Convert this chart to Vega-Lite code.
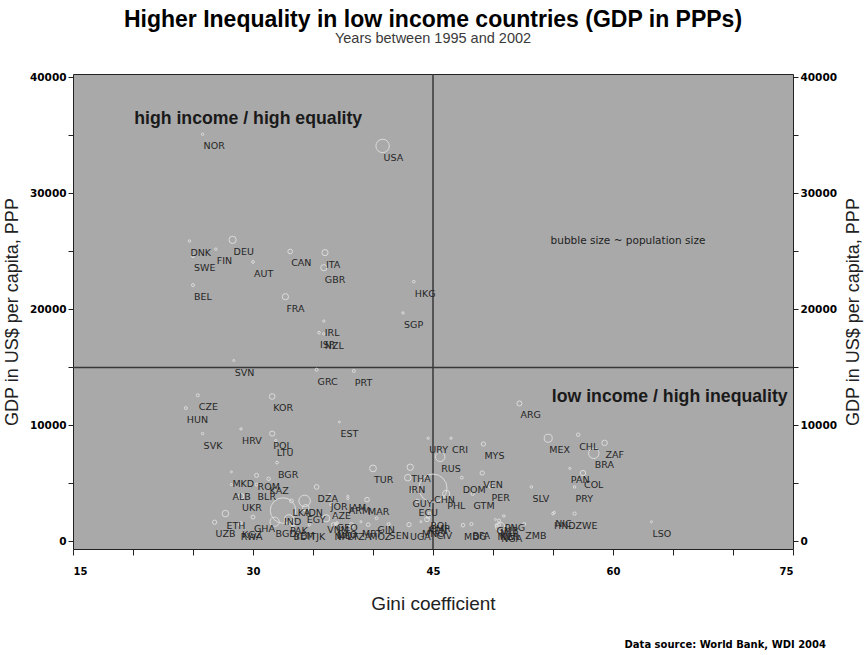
{
  "$schema": "https://vega.github.io/schema/vega-lite/v6.json",
  "width": 720,
  "height": 475,
  "autosize": {"type": "none"},
  "padding": {"left": 73, "top": 74, "right": 71, "bottom": 106},
  "background": "white",
  "title": {
    "text": "Higher Inequality in low income countries (GDP in PPPs)",
    "subtitle": "Years between 1995 and 2002",
    "font": "Liberation Sans",
    "fontSize": 23,
    "fontWeight": "bold",
    "color": "#000000",
    "subtitleFont": "Liberation Sans",
    "subtitleFontSize": 14.5,
    "subtitleColor": "#3a3a3a",
    "subtitlePadding": 0,
    "anchor": "middle",
    "offset": 27
  },
  "config": {
    "view": {"fill": "#a9a9a9", "stroke": "#222222", "strokeWidth": 1},
    "axisX": {
      "values": [15,16.5,18,19.5,21,22.5,24,25.5,27,28.5,30,31.5,33,34.5,36,37.5,39,40.5,42,43.5,45,46.5,48,49.5,51,52.5,54,55.5,57,58.5,60,61.5,63,64.5,66,67.5,69,70.5,72,73.5,75],
      "labelExpr": "datum.value % 15 === 0 ? datum.label : ''",
      "format": "d",
      "grid": false, "domain": false,
      "tickSize": 6, "tickColor": "#222222",
      "labelFont": "DejaVu Sans", "labelFontWeight": "bold", "labelFontSize": 10, "labelColor": "#000000",
      "labelPadding": 11,
      "titleFont": "Liberation Sans", "titleFontSize": 19, "titleFontWeight": "normal", "titleColor": "#222222",
      "titlePadding": 18
    },
    "axisY": {
      "values": [0,2000,4000,6000,8000,10000,12000,14000,16000,18000,20000,22000,24000,26000,28000,30000,32000,34000,36000,38000,40000],
      "labelExpr": "datum.value % 10000 === 0 ? datum.label : ''",
      "format": "d",
      "grid": false, "domain": false,
      "tickSize": 5, "tickColor": "#222222",
      "labelFont": "DejaVu Sans", "labelFontWeight": "bold", "labelFontSize": 10.5, "labelColor": "#000000",
      "labelPadding": 2,
      "titleFont": "Liberation Sans", "titleFontSize": 18, "titleFontWeight": "normal", "titleColor": "#222222"
    }
  },
  "datasets": {
    "countries": [
      {"iso": "NOR", "gini": 25.8, "gdp": 35100, "pop": 4.5},
      {"iso": "USA", "gini": 40.8, "gdp": 34100, "pop": 288},
      {"iso": "DNK", "gini": 24.7, "gdp": 25900, "pop": 5.4},
      {"iso": "DEU", "gini": 28.3, "gdp": 26000, "pop": 82},
      {"iso": "FIN", "gini": 26.9, "gdp": 25200, "pop": 5.2},
      {"iso": "SWE", "gini": 25.0, "gdp": 24600, "pop": 8.9},
      {"iso": "AUT", "gini": 30.0, "gdp": 24100, "pop": 8.1},
      {"iso": "CAN", "gini": 33.1, "gdp": 25000, "pop": 31},
      {"iso": "ITA", "gini": 36.0, "gdp": 24900, "pop": 57},
      {"iso": "GBR", "gini": 35.9, "gdp": 23600, "pop": 59},
      {"iso": "BEL", "gini": 25.0, "gdp": 22100, "pop": 10.3},
      {"iso": "FRA", "gini": 32.7, "gdp": 21100, "pop": 59},
      {"iso": "HKG", "gini": 43.4, "gdp": 22400, "pop": 6.8},
      {"iso": "SGP", "gini": 42.5, "gdp": 19700, "pop": 4.2},
      {"iso": "IRL", "gini": 35.9, "gdp": 19000, "pop": 3.9},
      {"iso": "ISR", "gini": 35.5, "gdp": 18000, "pop": 6.6},
      {"iso": "NZL", "gini": 35.9, "gdp": 17900, "pop": 3.9},
      {"iso": "SVN", "gini": 28.4, "gdp": 15600, "pop": 2.0},
      {"iso": "GRC", "gini": 35.3, "gdp": 14800, "pop": 10.6},
      {"iso": "PRT", "gini": 38.4, "gdp": 14700, "pop": 10.2},
      {"iso": "CZE", "gini": 25.4, "gdp": 12600, "pop": 10.2},
      {"iso": "HUN", "gini": 24.4, "gdp": 11500, "pop": 10.2},
      {"iso": "KOR", "gini": 31.6, "gdp": 12500, "pop": 47.6},
      {"iso": "SVK", "gini": 25.8, "gdp": 9300, "pop": 5.4},
      {"iso": "HRV", "gini": 29.0, "gdp": 9700, "pop": 4.4},
      {"iso": "POL", "gini": 31.6, "gdp": 9300, "pop": 38.6},
      {"iso": "LTU", "gini": 31.9, "gdp": 8700, "pop": 3.5},
      {"iso": "EST", "gini": 37.2, "gdp": 10300, "pop": 1.4},
      {"iso": "ARG", "gini": 52.2, "gdp": 11900, "pop": 36.5},
      {"iso": "URY", "gini": 44.6, "gdp": 8900, "pop": 3.4},
      {"iso": "CRI", "gini": 46.5, "gdp": 8900, "pop": 4.0},
      {"iso": "MEX", "gini": 54.6, "gdp": 8900, "pop": 101},
      {"iso": "CHL", "gini": 57.1, "gdp": 9200, "pop": 15.6},
      {"iso": "ZAF", "gini": 59.3, "gdp": 8500, "pop": 45},
      {"iso": "BRA", "gini": 58.4, "gdp": 7600, "pop": 174},
      {"iso": "RUS", "gini": 45.6, "gdp": 7300, "pop": 144},
      {"iso": "MYS", "gini": 49.2, "gdp": 8400, "pop": 24},
      {"iso": "TUR", "gini": 40.0, "gdp": 6300, "pop": 70},
      {"iso": "THA", "gini": 43.1, "gdp": 6400, "pop": 62},
      {"iso": "IRN", "gini": 42.9, "gdp": 5500, "pop": 66},
      {"iso": "VEN", "gini": 49.1, "gdp": 5900, "pop": 25},
      {"iso": "DOM", "gini": 47.4, "gdp": 5500, "pop": 8.6},
      {"iso": "PER", "gini": 49.8, "gdp": 4800, "pop": 27},
      {"iso": "SLV", "gini": 53.2, "gdp": 4700, "pop": 6.4},
      {"iso": "PAN", "gini": 56.4, "gdp": 6300, "pop": 2.9},
      {"iso": "COL", "gini": 57.5, "gdp": 5900, "pop": 44},
      {"iso": "PRY", "gini": 56.8, "gdp": 4700, "pop": 5.5},
      {"iso": "GTM", "gini": 48.3, "gdp": 4100, "pop": 12},
      {"iso": "PHL", "gini": 46.1, "gdp": 4100, "pop": 80},
      {"iso": "CHN", "gini": 45.0, "gdp": 4600, "pop": 1280},
      {"iso": "GUY", "gini": 43.2, "gdp": 4300, "pop": 0.8},
      {"iso": "ECU", "gini": 43.7, "gdp": 3500, "pop": 13},
      {"iso": "BGR", "gini": 32.0, "gdp": 6800, "pop": 7.9},
      {"iso": "MKD", "gini": 28.2, "gdp": 6000, "pop": 2.0},
      {"iso": "ROM", "gini": 30.3, "gdp": 5700, "pop": 22},
      {"iso": "KAZ", "gini": 31.3, "gdp": 5400, "pop": 15},
      {"iso": "ALB", "gini": 28.2, "gdp": 4900, "pop": 3.2},
      {"iso": "BLR", "gini": 30.3, "gdp": 4900, "pop": 9.9},
      {"iso": "UKR", "gini": 29.0, "gdp": 3900, "pop": 48},
      {"iso": "DZA", "gini": 35.3, "gdp": 4700, "pop": 31},
      {"iso": "JOR", "gini": 36.4, "gdp": 4000, "pop": 5.2},
      {"iso": "ARM", "gini": 37.9, "gdp": 3700, "pop": 3.1},
      {"iso": "MAR", "gini": 39.5, "gdp": 3600, "pop": 30},
      {"iso": "IND", "gini": 32.5, "gdp": 2670, "pop": 1050},
      {"iso": "IDN", "gini": 34.3, "gdp": 3500, "pop": 212},
      {"iso": "EGY", "gini": 34.4, "gdp": 2900, "pop": 66},
      {"iso": "BGD", "gini": 31.8, "gdp": 1700, "pop": 136},
      {"iso": "PAK", "gini": 33.0, "gdp": 1900, "pop": 145},
      {"iso": "VNM", "gini": 36.1, "gdp": 2000, "pop": 80},
      {"iso": "UZB", "gini": 26.8, "gdp": 1660, "pop": 25},
      {"iso": "ETH", "gini": 27.7, "gdp": 2400, "pop": 67},
      {"iso": "KGZ", "gini": 29.0, "gdp": 1600, "pop": 5},
      {"iso": "RWA", "gini": 28.9, "gdp": 1450, "pop": 8},
      {"iso": "GHA", "gini": 30.0, "gdp": 2100, "pop": 20},
      {"iso": "LAO", "gini": 37.0, "gdp": 1600, "pop": 5.5},
      {"iso": "NPL", "gini": 36.7, "gdp": 1450, "pop": 24},
      {"iso": "MNG", "gini": 44.0, "gdp": 1700, "pop": 2.4},
      {"iso": "TJK", "gini": 34.7, "gdp": 1450, "pop": 6.2},
      {"iso": "YEM", "gini": 33.4, "gdp": 1500, "pop": 19},
      {"iso": "BDI", "gini": 33.3, "gdp": 1400, "pop": 7},
      {"iso": "TZA", "gini": 38.2, "gdp": 1400, "pop": 35},
      {"iso": "SEN", "gini": 41.3, "gdp": 1500, "pop": 10},
      {"iso": "MRT", "gini": 39.0, "gdp": 1700, "pop": 2.8},
      {"iso": "GIN", "gini": 40.3, "gdp": 2000, "pop": 7.7},
      {"iso": "CIV", "gini": 45.2, "gdp": 1500, "pop": 16},
      {"iso": "KEN", "gini": 44.5, "gdp": 1900, "pop": 31},
      {"iso": "CMR", "gini": 44.6, "gdp": 2100, "pop": 16},
      {"iso": "UGA", "gini": 43.0, "gdp": 1450, "pop": 25},
      {"iso": "MOZ", "gini": 39.6, "gdp": 1450, "pop": 18},
      {"iso": "MWI", "gini": 50.3, "gdp": 1400, "pop": 11},
      {"iso": "ZMB", "gini": 52.6, "gdp": 1500, "pop": 10},
      {"iso": "NGA", "gini": 50.6, "gdp": 1250, "pop": 133},
      {"iso": "MLI", "gini": 50.5, "gdp": 1800, "pop": 11},
      {"iso": "NER", "gini": 50.5, "gdp": 1450, "pop": 11},
      {"iso": "BFA", "gini": 48.2, "gdp": 1500, "pop": 12},
      {"iso": "GMB", "gini": 50.2, "gdp": 1900, "pop": 1.4},
      {"iso": "MDG", "gini": 47.5, "gdp": 1400, "pop": 16},
      {"iso": "NIC", "gini": 55.1, "gdp": 2500, "pop": 5.3},
      {"iso": "HND", "gini": 55.0, "gdp": 2400, "pop": 6.8},
      {"iso": "ZWE", "gini": 56.8, "gdp": 2400, "pop": 13},
      {"iso": "LSO", "gini": 63.2, "gdp": 1700, "pop": 1.8},
      {"iso": "BOL", "gini": 44.7, "gdp": 2400, "pop": 8.7},
      {"iso": "PNG", "gini": 50.9, "gdp": 2200, "pop": 5.4},
      {"iso": "GEO", "gini": 36.9, "gdp": 2200, "pop": 5.2},
      {"iso": "AZE", "gini": 36.5, "gdp": 3200, "pop": 8.2},
      {"iso": "MDA", "gini": 36.9, "gdp": 1500, "pop": 4.3},
      {"iso": "LKA", "gini": 33.2, "gdp": 3500, "pop": 19},
      {"iso": "JAM", "gini": 37.9, "gdp": 3900, "pop": 2.6}
    ]
  },
  "resolve": {"axis": {"y": "independent"}},
  "layer": [
    {
      "data": {"values": [{"gdp": 15000}]},
      "mark": {"type": "rule", "color": "#383838", "strokeWidth": 1.5},
      "encoding": {
        "y": {"field": "gdp", "type": "quantitative", "scale": {"domain": [-650, 40300], "nice": false, "zero": false}, "axis": null}
      }
    },
    {
      "data": {"values": [{"gini": 45}]},
      "mark": {"type": "rule", "color": "#383838", "strokeWidth": 1.5},
      "encoding": {
        "x": {"field": "gini", "type": "quantitative", "scale": {"domain": [15, 75], "nice": false, "zero": false}, "title": "Gini coefficient"}
      }
    },
    {
      "data": {"name": "countries"},
      "mark": {"type": "point", "shape": "circle", "filled": false, "stroke": "#dcdcdc", "strokeWidth": 1, "opacity": 1},
      "encoding": {
        "x": {"field": "gini", "type": "quantitative", "scale": {"domain": [15, 75], "nice": false, "zero": false}, "title": "Gini coefficient"},
        "y": {
          "field": "gdp", "type": "quantitative",
          "scale": {"domain": [-650, 40300], "nice": false, "zero": false},
          "axis": {"orient": "left", "title": "GDP in US$ per capita, PPP", "titlePadding": 8}
        },
        "size": {"field": "pop", "type": "quantitative", "scale": {"type": "linear", "domain": [0, 1300], "range": [3, 800]}, "legend": null}
      }
    },
    {
      "data": {"name": "countries"},
      "mark": {"type": "text", "align": "left", "baseline": "middle", "dx": 1, "dy": 12, "font": "DejaVu Sans", "fontSize": 9.5, "color": "#262626"},
      "encoding": {
        "x": {"field": "gini", "type": "quantitative", "scale": {"domain": [15, 75], "nice": false, "zero": false}, "title": "Gini coefficient"},
        "y": {
          "field": "gdp", "type": "quantitative",
          "scale": {"domain": [-650, 40300], "nice": false, "zero": false},
          "axis": {"orient": "right", "title": "GDP in US$ per capita, PPP", "titleAngle": 270, "titlePadding": 26}
        },
        "text": {"field": "iso", "type": "nominal"}
      }
    },
    {
      "data": {"values": [
        {"gini": 20.1, "gdp": 36400, "note": "high income / high equality"},
        {"gini": 54.9, "gdp": 12460, "note": "low income / high inequality"}
      ]},
      "mark": {"type": "text", "align": "left", "baseline": "middle", "font": "Liberation Sans", "fontSize": 17.7, "fontWeight": "bold", "color": "#1a1a1a"},
      "encoding": {
        "x": {"field": "gini", "type": "quantitative", "scale": {"domain": [15, 75], "nice": false, "zero": false}, "title": "Gini coefficient"},
        "y": {"field": "gdp", "type": "quantitative", "scale": {"domain": [-650, 40300], "nice": false, "zero": false}, "axis": null},
        "text": {"field": "note", "type": "nominal"}
      }
    },
    {
      "data": {"values": [{"gini": 54.8, "gdp": 25900, "note": "bubble size ~ population size"}]},
      "mark": {"type": "text", "align": "left", "baseline": "middle", "font": "DejaVu Sans", "fontSize": 10.5, "color": "#222222"},
      "encoding": {
        "x": {"field": "gini", "type": "quantitative", "scale": {"domain": [15, 75], "nice": false, "zero": false}, "title": "Gini coefficient"},
        "y": {"field": "gdp", "type": "quantitative", "scale": {"domain": [-650, 40300], "nice": false, "zero": false}, "axis": null},
        "text": {"field": "note", "type": "nominal"}
      }
    },
    {
      "data": {"values": [{"gini": 77.75, "gdp": -8920, "note": "Data source: World Bank, WDI 2004"}]},
      "mark": {"type": "text", "align": "right", "baseline": "middle", "font": "DejaVu Sans", "fontSize": 10, "fontWeight": "bold", "color": "#000000"},
      "encoding": {
        "x": {"field": "gini", "type": "quantitative", "scale": {"domain": [15, 75], "nice": false, "zero": false}, "title": "Gini coefficient"},
        "y": {"field": "gdp", "type": "quantitative", "scale": {"domain": [-650, 40300], "nice": false, "zero": false}, "axis": null},
        "text": {"field": "note", "type": "nominal"}
      }
    }
  ]
}
